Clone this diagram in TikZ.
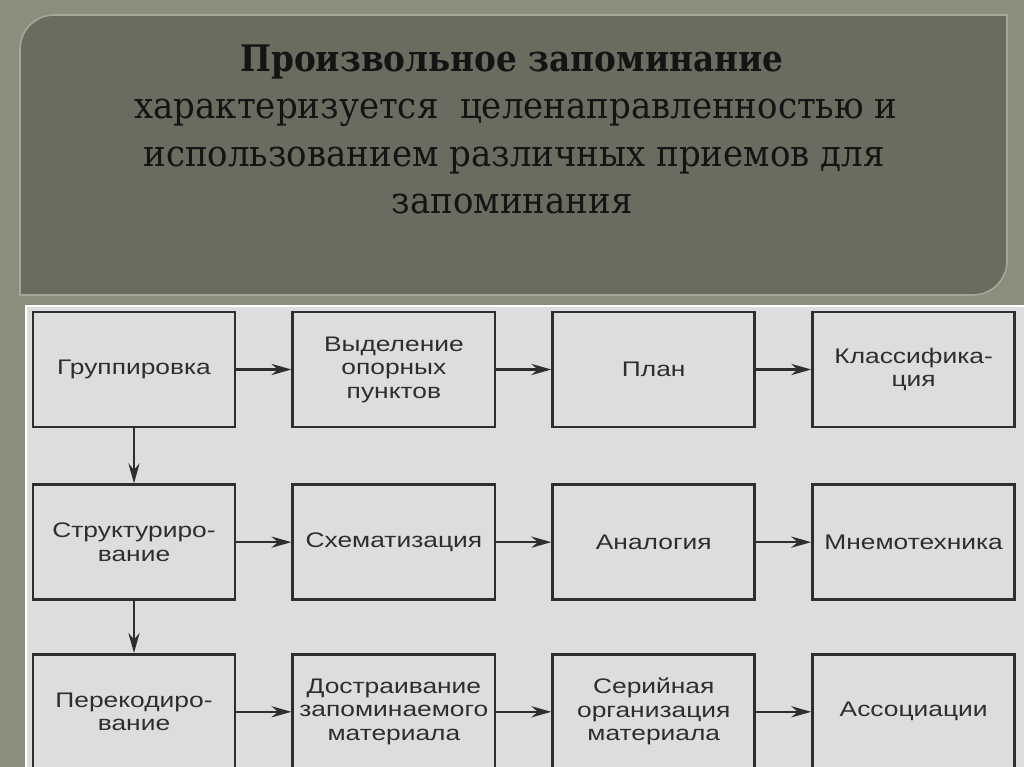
\documentclass[tikz,border=0pt]{standalone}
\usepackage{fontspec}
\setmainfont{DejaVu Serif}
\newfontfamily\headfont[FakeStretch=0.93]{DejaVu Serif}
\newfontfamily\titlefont[FakeStretch=0.895]{DejaVu Serif}
\newfontfamily\boxfont[FakeStretch=1.25]{Liberation Sans}
\usepackage{xcolor}
\definecolor{slideBack}{HTML}{8A8E7D}
\definecolor{headFill}{HTML}{696C5F}
\definecolor{headEdge}{HTML}{A4A895}
\definecolor{panelGray}{HTML}{DDDDDD}
\definecolor{lineDark}{HTML}{2E2E2E}
\definecolor{inkText}{HTML}{141414}
\usepackage{tikz}
\usetikzlibrary{
    arrows.meta,
    positioning
}
\tikzset{
    % Header panel - two rounded corners
    head panel/.style={
        fill=headFill,
        draw=headEdge,
        line width=1.2pt,
    },
    % Header text
    head text/.style={
        font=\headfont\fontsize{26}{30}\selectfont,
        text=inkText,
        align=center,
        inner sep=0pt,
    },
    % Method boxes
    method/.style={
        rectangle,
        draw=lineDark,
        line width=2pt,
        fill=panelGray,
        text=lineDark,
        minimum width=5.05cm,
        minimum height=2.87cm,
        align=center,
        inner sep=2pt,
        font=\boxfont\fontsize{15}{16.7}\selectfont,
    },
    % Plain arrow
    arrow/.style={
        -{Stealth[length=5mm, width=2.8mm]},
        line width=1.5pt,
        draw=lineDark,
    },
}

\begin{document}
\begin{tikzpicture}[x=0.025cm, y=-0.025cm, node distance=1.375cm]
    % slide background
    \fill[slideBack] (0,0) rectangle (1024,767);
    \useasboundingbox (0,0) rectangle (1024,767);

    % header
    \draw[head panel] (20,295) -- (20,49) .. controls (20,30.2) and (35.2,15) .. (54,15)
        -- (1007,15) -- (1007,261) .. controls (1007,279.8) and (991.8,295) .. (973,295) -- cycle;
    \node (title) [head text, font=\titlefont\bfseries\fontsize{26}{30}\selectfont, anchor=base] at (512,72) {Произвольное запоминание};
    \node (descr) [head text, anchor=base] at (516,119) {характеризуется\ \ целенаправленностью и};
    \node (descr2) [head text, anchor=base] at (514,167) {использованием различных приемов для};
    \node (descr3) [head text, anchor=base] at (512,214) {запоминания};

    % diagram panel
    \fill[panelGray] (25,305) rectangle (1024,767);
    \draw[white, line width=2pt] (26,767) -- (26,306) -- (1024,306);

    \node (grp) [method] at (134,369.5) {Группировка};
    \node (opor) [method, right=of grp] {Выделение\\опорных\\пунктов};
    \node (plan) [method, right=of opor] {План};
    \node (klass) [method, right=of plan] {Классифика-\\ция};

    \node (struct) [method, below=of grp] {Структуриро-\\вание};
    \node (schem) [method, right=of struct] {Схематизация};
    \node (analog) [method, right=of schem] {Аналогия};
    \node (mnemo) [method, right=of analog] {Мнемотехника};

    \node (recode) [method, below=1.3cm of struct] {Перекодиро-\\вание};
    \node (dostr) [method, right=of recode] {Достраивание\\запоминаемого\\материала};
    \node (serial) [method, right=of dostr] {Серийная\\организация\\материала};
    \node (assoc) [method, right=of serial] {Ассоциации};

    \draw [arrow] (grp) -- (opor);
    \draw [arrow] (opor) -- (plan);
    \draw [arrow] (plan) -- (klass);
    \draw [arrow] (struct) -- (schem);
    \draw [arrow] (schem) -- (analog);
    \draw [arrow] (analog) -- (mnemo);
    \draw [arrow] (recode) -- (dostr);
    \draw [arrow] (dostr) -- (serial);
    \draw [arrow] (serial) -- (assoc);
    \draw [arrow] (grp) -- (struct);
    \draw [arrow] (struct) -- (recode);
\end{tikzpicture}
\end{document}
